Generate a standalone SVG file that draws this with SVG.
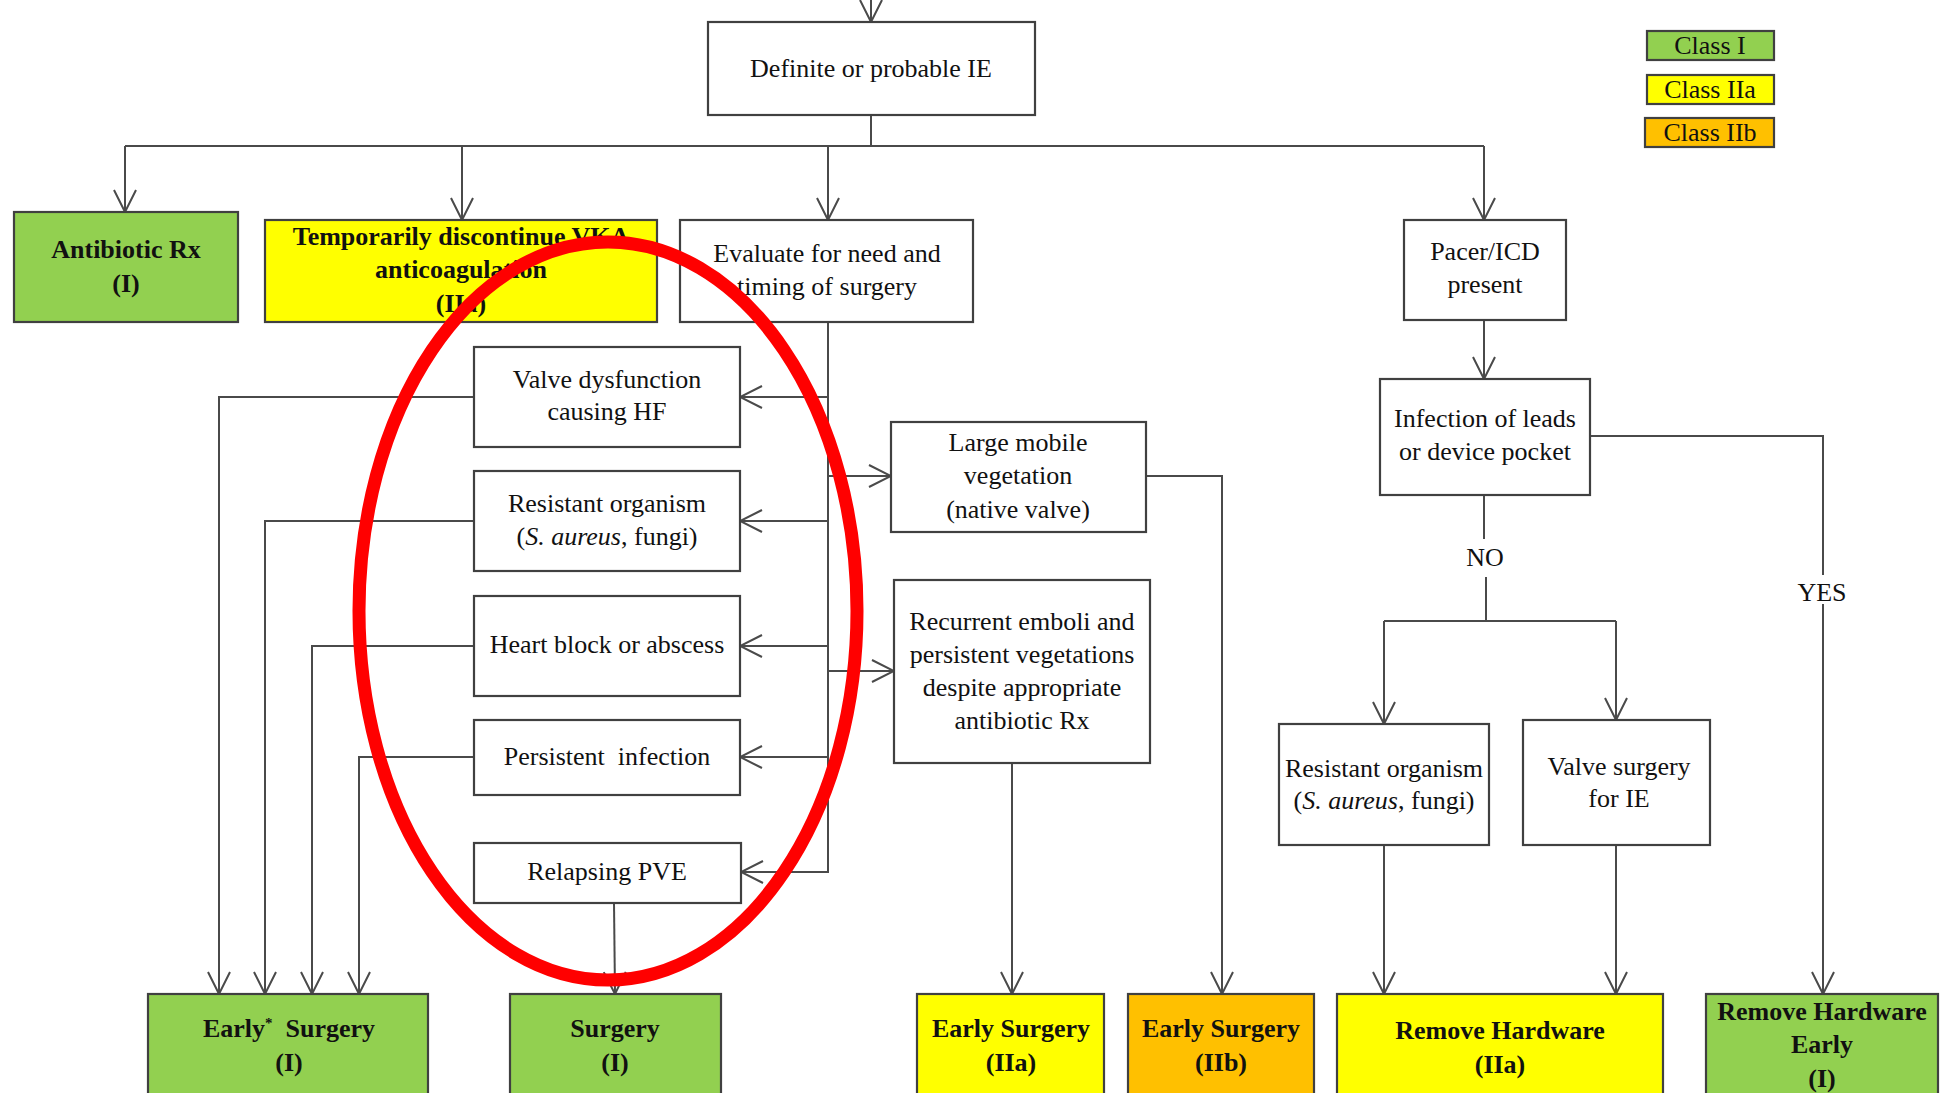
<svg xmlns="http://www.w3.org/2000/svg" width="1943" height="1093" viewBox="0 0 1943 1093">
<style>
.box{stroke:#404040;stroke-width:2.2}
.w{fill:#fff}
.g{fill:#92D050}
.y{fill:#FFFF00}
.o{fill:#FFC000}
.t{font-family:"Liberation Serif","Times New Roman",serif;font-size:26px;text-anchor:middle;fill:#111}
.b{font-weight:bold}
.c{fill:none;stroke:#4a4a4a;stroke-width:2}
</style>
<defs>
<marker id="ah" markerUnits="userSpaceOnUse" viewBox="-24 -13 26 26" markerWidth="26" markerHeight="26" refX="0" refY="0" orient="auto">
<path d="M-22,-11 L0,0 L-22,11" fill="none" stroke="#4a4a4a" stroke-width="2"/>
</marker>
</defs>
<rect width="1943" height="1093" fill="#fff"/>

<g id="connectors">
<path class="c" d="M871,0 V22" marker-end="url(#ah)"/>
<path class="c" d="M871,115 V146"/>
<path class="c" d="M125,146 H1484"/>
<path class="c" d="M125,146 V212" marker-end="url(#ah)"/>
<path class="c" d="M462,146 V220" marker-end="url(#ah)"/>
<path class="c" d="M828,146 V220" marker-end="url(#ah)"/>
<path class="c" d="M1484,146 V220" marker-end="url(#ah)"/>
<path class="c" d="M1484,320 V379" marker-end="url(#ah)"/>
<path class="c" d="M828,322 V872 H741" marker-end="url(#ah)"/>
<path class="c" d="M828,397 H740" marker-end="url(#ah)"/>
<path class="c" d="M828,521 H740" marker-end="url(#ah)"/>
<path class="c" d="M828,646 H740" marker-end="url(#ah)"/>
<path class="c" d="M828,757 H740" marker-end="url(#ah)"/>
<path class="c" d="M828,476 H891" marker-end="url(#ah)"/>
<path class="c" d="M828,671 H894" marker-end="url(#ah)"/>
<path class="c" d="M474,397 H219 V994" marker-end="url(#ah)"/>
<path class="c" d="M474,521 H265 V994" marker-end="url(#ah)"/>
<path class="c" d="M474,646 H312 V994" marker-end="url(#ah)"/>
<path class="c" d="M474,757 H359 V994" marker-end="url(#ah)"/>
<path class="c" d="M614,903 L615,994" marker-end="url(#ah)"/>
<path class="c" d="M1146,476 H1222 V994" marker-end="url(#ah)"/>
<path class="c" d="M1012,763 V994" marker-end="url(#ah)"/>
<path class="c" d="M1484,495 V539"/>
<path class="c" d="M1486,577 V621"/>
<path class="c" d="M1384,621 H1616"/>
<path class="c" d="M1384,621 V724" marker-end="url(#ah)"/>
<path class="c" d="M1616,621 V720" marker-end="url(#ah)"/>
<path class="c" d="M1384,845 V994" marker-end="url(#ah)"/>
<path class="c" d="M1616,845 V994" marker-end="url(#ah)"/>
<path class="c" d="M1590,436 H1823 V575"/>
<path class="c" d="M1823,604 V994" marker-end="url(#ah)"/>
<text class="t" x="1485" y="566">NO</text>
<text class="t" x="1822" y="601">YES</text>
</g>

<g id="legend">
<rect class="box g" x="1647" y="31" width="127" height="29"/>
<text class="t" x="1710" y="54">Class I</text>
<rect class="box y" x="1647" y="75" width="127" height="29"/>
<text class="t" x="1710" y="98">Class IIa</text>
<rect class="box o" x="1645" y="118" width="129" height="29"/>
<text class="t" x="1710" y="141">Class IIb</text>
</g>

<g id="definite">
<rect class="box w" x="708" y="22" width="327" height="93"/>
<text class="t" x="871" y="77">Definite or probable IE</text>
</g>

<g id="antibiotic">
<rect class="box g" x="14" y="212" width="224" height="110"/>
<text class="t b" x="126" y="258">Antibiotic Rx</text>
<text class="t b" x="126" y="292">(I)</text>
</g>

<g id="vka">
<rect class="box y" x="265" y="220" width="392" height="102"/>
<text class="t b" x="461" y="245">Temporarily discontinue VKA</text>
<text class="t b" x="461" y="278">anticoagulation</text>
<text class="t b" x="461" y="312">(IIa)</text>
</g>

<g id="evaluate">
<rect class="box w" x="680" y="220" width="293" height="102"/>
<text class="t" x="827" y="262">Evaluate for need and</text>
<text class="t" x="827" y="295">timing of surgery</text>
</g>

<g id="pacer">
<rect class="box w" x="1404" y="220" width="162" height="100"/>
<text class="t" x="1485" y="260">Pacer/ICD</text>
<text class="t" x="1485" y="293">present</text>
</g>

<g id="infection">
<rect class="box w" x="1380" y="379" width="210" height="116"/>
<text class="t" x="1485" y="427">Infection of leads</text>
<text class="t" x="1485" y="460">or device pocket</text>
</g>

<g id="valve-dysfunction">
<rect class="box w" x="474" y="347" width="266" height="100"/>
<text class="t" x="607" y="388">Valve dysfunction</text>
<text class="t" x="607" y="420">causing HF</text>
</g>

<g id="resistant-left">
<rect class="box w" x="474" y="471" width="266" height="100"/>
<text class="t" x="607" y="512">Resistant organism</text>
<text class="t" x="607" y="545">(<tspan font-style="italic">S. aureus</tspan>, fungi)</text>
</g>

<g id="heart-block">
<rect class="box w" x="474" y="596" width="266" height="100"/>
<text class="t" x="607" y="653">Heart block or abscess</text>
</g>

<g id="persistent">
<rect class="box w" x="474" y="720" width="266" height="75"/>
<text class="t" x="607" y="765" xml:space="preserve">Persistent  infection</text>
</g>

<g id="relapsing">
<rect class="box w" x="474" y="843" width="267" height="60"/>
<text class="t" x="607" y="880">Relapsing PVE</text>
</g>

<g id="large-mobile">
<rect class="box w" x="891" y="422" width="255" height="110"/>
<text class="t" x="1018" y="451">Large mobile</text>
<text class="t" x="1018" y="484">vegetation</text>
<text class="t" x="1018" y="518">(native valve)</text>
</g>

<g id="recurrent">
<rect class="box w" x="894" y="580" width="256" height="183"/>
<text class="t" x="1022" y="630">Recurrent emboli and</text>
<text class="t" x="1022" y="663">persistent vegetations</text>
<text class="t" x="1022" y="696">despite appropriate</text>
<text class="t" x="1022" y="729">antibiotic Rx</text>
</g>

<g id="resistant-right">
<rect class="box w" x="1279" y="724" width="210" height="121"/>
<text class="t" x="1384" y="777">Resistant organism</text>
<text class="t" x="1384" y="809">(<tspan font-style="italic">S. aureus</tspan>, fungi)</text>
</g>

<g id="valve-surgery">
<rect class="box w" x="1523" y="720" width="187" height="125"/>
<text class="t" x="1619" y="775">Valve surgery</text>
<text class="t" x="1619" y="807">for IE</text>
</g>

<g id="early-surgery-I">
<rect class="box g" x="148" y="994" width="280" height="110"/>
<text class="t b" x="289" y="1037" xml:space="preserve">Early<tspan font-size="15" dy="-9">*</tspan><tspan dy="9">  Surgery</tspan></text>
<text class="t b" x="289" y="1071">(I)</text>
</g>

<g id="surgery-I">
<rect class="box g" x="510" y="994" width="211" height="110"/>
<text class="t b" x="615" y="1037">Surgery</text>
<text class="t b" x="615" y="1071">(I)</text>
</g>

<g id="early-surgery-IIa">
<rect class="box y" x="917" y="994" width="187" height="110"/>
<text class="t b" x="1011" y="1037">Early Surgery</text>
<text class="t b" x="1011" y="1071">(IIa)</text>
</g>

<g id="early-surgery-IIb">
<rect class="box o" x="1128" y="994" width="186" height="110"/>
<text class="t b" x="1221" y="1037">Early Surgery</text>
<text class="t b" x="1221" y="1071">(IIb)</text>
</g>

<g id="remove-hardware-IIa">
<rect class="box y" x="1337" y="994" width="326" height="110"/>
<text class="t b" x="1500" y="1039">Remove Hardware</text>
<text class="t b" x="1500" y="1073">(IIa)</text>
</g>

<g id="remove-hardware-early">
<rect class="box g" x="1706" y="994" width="232" height="110"/>
<text class="t b" x="1822" y="1020">Remove Hardware</text>
<text class="t b" x="1822" y="1053">Early</text>
<text class="t b" x="1822" y="1087">(I)</text>
</g>

<ellipse cx="608" cy="611" rx="249" ry="369" fill="none" stroke="#FF0000" stroke-width="13"/>
</svg>
